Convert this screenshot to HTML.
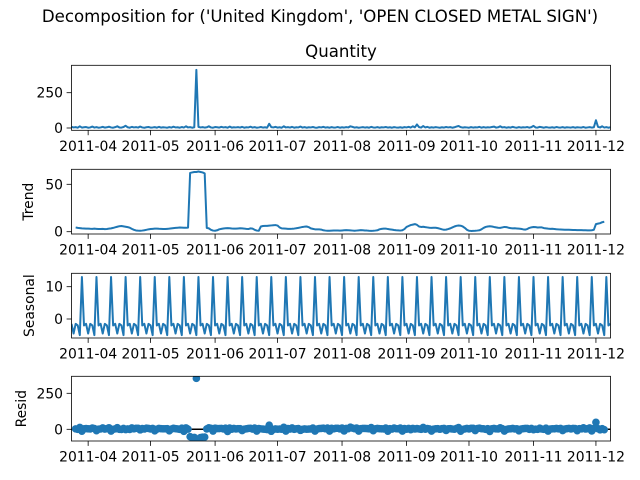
<!DOCTYPE html>
<html><head><meta charset="utf-8"><style>
html,body{margin:0;padding:0;background:#fff;}
svg{display:block;font-family:"DejaVu Sans","Liberation Sans",sans-serif;}
</style></head><body>
<svg id="chart" width="640" height="480" viewBox="0 0 640 480">
<rect width="640" height="480" fill="#fff"/>
<text x="320" y="22" text-anchor="middle" font-size="16.6" fill="#000">Decomposition for ('United Kingdom', 'OPEN CLOSED METAL SIGN')</text>
<text x="341" y="57" text-anchor="middle" font-size="16.6" fill="#000">Quantity</text>
</svg>
<script>
const monthLabels = ["2011-04","2011-05","2011-06","2011-07","2011-08","2011-09","2011-10","2011-11","2011-12"];
const monthDays = [8,38,69,99,130,161,191,222,252];
const quantity = [
8,4,6,2,12,3,5,7,2,4,10,3,6,2,4,8,3,5,9,4,
2,6,12,4,3,7,16,5,2,8,4,6,3,10,4,2,5,7,3,4,
6,2,8,3,5,4,2,6,3,9,4,5,2,7,3,12,4,6,2,5,
412,8,4,6,3,5,12,4,2,7,5,3,8,4,6,2,10,3,5,4,
6,3,8,2,5,4,9,3,6,2,4,7,3,5,2,30,6,4,8,3,
5,2,12,4,6,3,8,2,5,4,10,3,6,2,5,4,7,3,2,6,
4,8,3,5,2,6,3,4,7,2,5,3,6,4,12,8,3,5,2,4,
6,3,5,2,8,4,3,6,2,5,4,7,3,5,2,6,4,3,5,2,
6,4,8,3,12,5,25,6,3,14,4,8,2,5,3,6,4,2,5,3,
7,4,6,2,5,10,14,6,3,5,4,2,6,3,5,4,8,2,6,3,
5,4,7,10,3,5,12,4,6,2,5,3,8,4,2,6,3,5,4,7,
2,6,15,4,3,8,5,2,6,4,3,5,2,7,4,3,6,2,5,4,
3,6,2,5,4,3,7,2,4,6,3,5,55,8,4,12,3,6,2,5];
const trend = [
null,null,4.5,4,3.8,3.5,3.4,3.2,3.3,3.1,3,3.2,3,2.8,2.9,3,2.7,2.9,3.2,3.5,
4,4.6,5.2,5.8,6,5.6,5.2,4.8,4.2,3,2,1.3,1.1,1,1.2,1.5,2,2.5,2.8,3,
3.2,3.3,3.1,3,2.9,2.8,3,3.2,3.5,3.8,4,4.2,4.4,4.3,4.2,4.1,4.3,62,62.5,63,
63,63.5,63,62.5,61.5,4,3.5,2,1.2,1,1.5,2.5,3,3.4,3.6,3.8,3.6,3.4,3.3,3.2,
3.4,3.6,3.5,3.3,3,2.8,3.5,3.2,2,1.2,1,5.5,6,6.2,6.1,6.4,6.6,6.8,7,6.5,
4.5,3.5,3.4,3.2,3,3,3.1,3.3,3.6,4,4.5,5,5.3,5.5,4.8,3.5,3,2.5,2.5,2.4,
2.2,1.5,1.2,1,1,1.1,1.2,1.3,1.2,1.1,1.3,1.5,1.6,1.5,1.4,1.2,1,1.2,1.4,1.6,
1.5,1.3,1.2,1,0.9,1,1.2,1.5,2.5,3,3.2,3.3,2.8,2.5,2.2,1.8,1.5,1.4,1.2,1.5,
2.8,5,6,7,7.5,8,7.2,5.5,5,5.2,4.8,4.5,4.2,4,4.1,4.2,3.8,3.2,2.5,2,
2.2,2.8,3.5,4.5,5.5,6.2,6.5,6.3,5.5,4,2,1,0.8,0.9,1,1.2,1.5,2.5,4,5,
5.5,5.8,5.5,5,4.6,4.2,4,4.5,5,4.8,4.2,3.8,3.5,3.6,3.4,3.2,3,2.5,2.2,2.8,
4,4.6,5,4.8,4.4,4.6,4.5,3.8,3.5,3.2,3,3.1,2.9,2.6,2.4,2.3,2.2,2.1,2,2,
1.9,1.8,1.8,1.7,1.6,1.6,1.5,1.5,1.4,1.4,1.5,2,8,8.5,9,10,10.5,null,null,null];
const seasonalPattern = [13,-2,-1.5,-4.5,-1.5,-2,-5];
const seasonalPhase = 5;
const quantityTicks = [0,250];
const trendTicks = [0,50];
const seasonalTicks = [0,10];
const residTicks = [0,250];

const NS = "http://www.w3.org/2000/svg";
const svg = document.getElementById('chart');
const X0 = 71.5, X1 = 610.5, D0 = 0, D1 = 259;
function xs(d){ return X0 + (d - D0) / (D1 - D0) * (X1 - X0); }
function mk(tag, attrs, parent){
  const e = document.createElementNS(NS, tag);
  for (const k in attrs) e.setAttribute(k, attrs[k]);
  (parent || svg).appendChild(e);
  return e;
}
const seasonal = quantity.map((_, d) => seasonalPattern[((d - seasonalPhase) % 7 + 7) % 7]);
const resid = quantity.map((q, d) => trend[d] == null ? null : q - trend[d] - seasonal[d]);

const panels = [
  {name:'quantity', top:65.3, bot:130.3, v0:0, p0:128, v1:250, p1:92.7, ticks:quantityTicks, data:quantity, label:null},
  {name:'trend', top:169.3, bot:234, v0:0, p0:231.7, v1:50, p1:184.3, ticks:trendTicks, data:trend, label:'Trend', lx:29},
  {name:'seasonal', top:273.3, bot:338, v0:0, p0:319, v1:10, p1:286.7, ticks:seasonalTicks, data:seasonal, label:'Seasonal', lx:30},
  {name:'resid', top:376.3, bot:441, v0:0, p0:429.3, v1:250, p1:393.3, ticks:residTicks, data:resid, label:'Resid', lx:22, dots:true}
];

panels.forEach(p => {
  const ys = v => p.p0 + (v - p.v0) * (p.p1 - p.p0) / (p.v1 - p.v0);
  const g = mk('g', {});
  
  
  const cid = 'clip-' + p.name;
  const cp = mk('clipPath', {id: cid}, g);
  mk('rect', {x: X0, y: p.top, width: X1 - X0, height: p.bot - p.top}, cp);
  const plot = mk('g', {'clip-path': 'url(#' + cid + ')'}, g);
  if (p.dots) {
    const zl = mk('line', {x1: X0, x2: X1, y1: ys(0), y2: ys(0), stroke: '#000', 'stroke-width': 1.5}, plot);
    
    
    p.data.forEach((v, d) => {
      if (v == null) return;
      const c = mk('circle', {cx: xs(d), cy: ys(v), r: 3.8, fill: '#1f77b4'}, plot);
      
      
    });
  } else {
    let dstr = '', pen = false;
    p.data.forEach((v, d) => {
      if (v == null) { pen = false; return; }
      dstr += (pen ? 'L' : 'M') + xs(d).toFixed(2) + ' ' + ys(v).toFixed(2);
      pen = true;
    });
    const ln = mk('path', {d: dstr, fill: 'none', stroke: '#1f77b4', 'stroke-width': 2, 'stroke-linejoin': 'round'}, plot);
    
    
  }
  const fr = mk('rect', {x: X0, y: p.top, width: X1 - X0, height: p.bot - p.top, fill: 'none', stroke: '#000', 'stroke-width': 0.8}, g);
  
  
  monthDays.forEach((md, i) => {
    const x = xs(md);
    mk('line', {x1: x, x2: x, y1: p.bot, y2: p.bot + 4.9, stroke: '#000', 'stroke-width': 0.8}, g);
    const t = mk('text', {x: x, y: p.bot + 20.5, 'text-anchor': 'middle', 'font-size': 13.9, fill: '#000'}, g);
    t.textContent = monthLabels[i];
    
    
  });
  p.ticks.forEach(tv => {
    const y = ys(tv);
    mk('line', {x1: X0 - 4.9, x2: X0, y1: y, y2: y, stroke: '#000', 'stroke-width': 0.8}, g);
    const t = mk('text', {x: X0 - 8.5, y: y + 5, 'text-anchor': 'end', 'font-size': 13.9, fill: '#000'}, g);
    t.textContent = String(tv);
    
    
  });
  if (p.label) {
    const cy = (p.top + p.bot) / 2;
    const t = mk('text', {x: p.lx, y: cy, 'text-anchor': 'middle', 'font-size': 13.9, fill: '#000', transform: 'rotate(-90 ' + p.lx + ' ' + cy + ')', 'dominant-baseline': 'central'}, g);
    t.textContent = p.label;
    
    
  }
});
</script>
</body></html>
